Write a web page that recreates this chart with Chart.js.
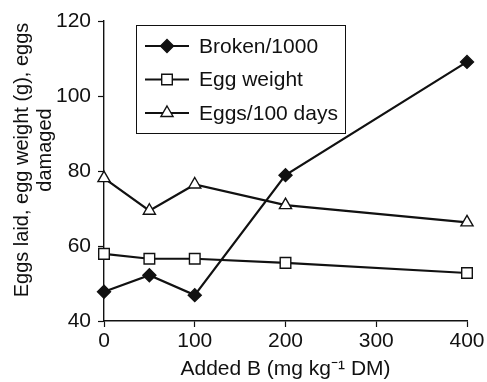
<!DOCTYPE html>
<html>
<head>
<meta charset="utf-8">
<script src="https://cdn.jsdelivr.net/npm/chart.js@4"></script>
<style>
html,body{margin:0;padding:0;background:#fff;}
#wrap{width:487px;height:382px;}
</style>
</head>
<body>
<div id="wrap"><canvas id="c" width="487" height="382"></canvas></div>
<script>
const addedB = [0, 50, 100, 200, 400];
const broken = [47.8, 52.2, 46.9, 78.9, 109.1];
const eggWeight = [57.9, 56.6, 56.6, 55.5, 52.8];
const eggs100 = [78.1, 69.4, 76.4, 70.9, 66.3];
const seriesNames = ['Broken/1000', 'Egg weight', 'Eggs/100 days'];
const xTicks = [0, 100, 200, 300, 400];
const yTicks = [40, 60, 80, 100, 120];
const xTitle = 'Added B (mg kg\u207B\u00B9 DM)';
const yTitleLines = ['Eggs laid, egg weight (g), eggs', 'damaged'];

const FONT = '"Liberation Sans", Arial, Helvetica, sans-serif';
const FS = 21;
const toXY = (vals) => addedB.map((x, i) => ({x: x, y: vals[i]}));

const datasets = [
  {label: seriesNames[0], data: toXY(broken), pointStyle: 'rectRot', pointRadius: 6.5,
   backgroundColor: '#111', borderColor: '#111', pointBackgroundColor: '#111'},
  {label: seriesNames[1], data: toXY(eggWeight), pointStyle: 'rect', pointRadius: 7.5,
   backgroundColor: '#fff', borderColor: '#111', pointBackgroundColor: '#fff'},
  {label: seriesNames[2], data: toXY(eggs100), pointStyle: 'triangle', pointRadius: 7,
   backgroundColor: '#fff', borderColor: '#111', pointBackgroundColor: '#fff'}
].map(d => Object.assign(d, {borderWidth: 2.2, pointBorderWidth: 1.4, pointBorderColor: '#111',
  fill: false, tension: 0, clip: false, pointHoverRadius: d.pointRadius}));

const boxLegend = {
  id: 'boxLegend',
  afterDraw(chart) {
    const ctx = chart.ctx;
    const bx = 136, by = 25, bw = 209, bh = 108;
    ctx.save();
    ctx.fillStyle = '#fff';
    ctx.fillRect(bx, by, bw, bh);
    ctx.strokeStyle = '#111';
    ctx.lineWidth = 1;
    ctx.strokeRect(bx + 0.5, by + 0.5, bw, bh);
    chart.data.datasets.forEach((ds, i) => {
      const y = 46 + i * 33.5;
      ctx.strokeStyle = '#111';
      ctx.lineWidth = 2.2;
      ctx.beginPath();
      ctx.moveTo(145, y);
      ctx.lineTo(189, y);
      ctx.stroke();
      ctx.fillStyle = ds.pointBackgroundColor;
      ctx.lineWidth = 1.4;
      Chart.helpers.drawPoint(ctx, {pointStyle: ds.pointStyle, radius: ds.pointRadius, borderWidth: 1.4, rotation: 0}, 167, y);
      ctx.fillStyle = '#111';
      ctx.font = FS + 'px ' + FONT;
      ctx.textBaseline = 'middle';
      ctx.textAlign = 'left';
      ctx.fillText(ds.label, 199, y + 1);
    });
    ctx.restore();
  }
};

const yTitlePlugin = {
  id: 'yTitle',
  afterDraw(chart) {
    const ctx = chart.ctx;
    ctx.save();
    ctx.rotate(-Math.PI / 2);
    ctx.fillStyle = '#111';
    ctx.font = '20px ' + FONT;
    ctx.textAlign = 'center';
    ctx.textBaseline = 'alphabetic';
    ctx.fillText(yTitleLines[0], -160, 28);
    ctx.fillText(yTitleLines[1], -150, 51);
    ctx.restore();
  }
};

new Chart(document.getElementById('c'), {
  type: 'line',
  data: {datasets: datasets},
  options: {
    responsive: false,
    animation: false,
    layout: {padding: {top: 21, right: 20, left: 0, bottom: 0}},
    plugins: {legend: {display: false}, tooltip: {enabled: false}},
    scales: {
      x: {
        type: 'linear', min: 0, max: 400,
        afterBuildTicks: (s) => { s.ticks = xTicks.map(v => ({value: v})); },
        afterFit: (s) => { s.height = 61; },
        grid: {drawOnChartArea: false, drawTicks: true, tickLength: 6, color: '#111', tickWidth: 1.2},
        border: {color: '#111', width: 1.4},
        ticks: {color: '#111', font: {size: FS, family: FONT}, padding: 2, maxRotation: 0},
        title: {display: true, text: xTitle, color: '#111', font: {size: FS, family: FONT}, padding: {top: 6, bottom: 0}}
      },
      y: {
        type: 'linear', min: 40, max: 120,
        afterBuildTicks: (s) => { s.ticks = yTicks.map(v => ({value: v})); },
        afterFit: (s) => { s.width = 104; },
        grid: {drawOnChartArea: false, drawTicks: true, tickLength: 6, color: '#111', tickWidth: 1.2},
        border: {color: '#111', width: 1.4},
        ticks: {color: '#111', font: {size: FS, family: FONT}, padding: 7}
      }
    }
  },
  plugins: [boxLegend, yTitlePlugin]
});
</script>
</body>
</html>
